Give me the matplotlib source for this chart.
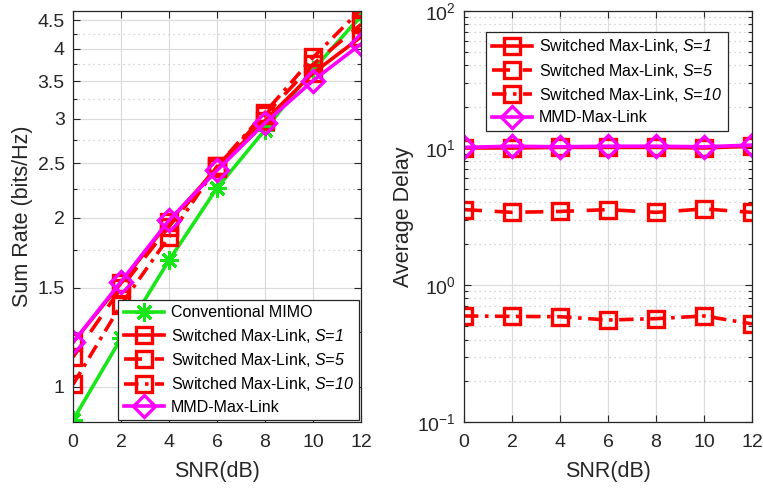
import matplotlib
matplotlib.use("Agg")
import matplotlib.pyplot as plt
from matplotlib.ticker import FixedLocator, FixedFormatter, LogLocator, NullFormatter

plt.rcParams['font.family'] = ['Liberation Sans', 'DejaVu Sans']
plt.rcParams['mathtext.fontset'] = 'custom'
# \text{} inside mathtext picks up the italic face, so "S=1" stays tight
plt.rcParams['mathtext.rm'] = 'Liberation Sans:italic'
plt.rcParams['mathtext.it'] = 'Liberation Sans:italic'

snr = [0, 2, 4, 6, 8, 10, 12]

# sum rate (bits/Hz)
rate_mimo = [0.873, 1.22, 1.68, 2.26, 2.87, 3.67, 4.58]
rate_s1 = [1.20, 1.53, 1.97, 2.45, 2.98, 3.62, 4.20]
rate_s5 = [1.13, 1.50, 1.93, 2.47, 3.05, 3.75, 4.42]
rate_s10 = [1.01, 1.40, 1.85, 2.47, 3.08, 3.86, 4.70]
rate_mmd = [1.20, 1.54, 1.98, 2.43, 2.95, 3.51, 4.08]

# average delay
delay_s1 = [10.0, 10.0, 10.1, 10.1, 10.1, 10.0, 10.3]
delay_s5 = [3.55, 3.39, 3.44, 3.55, 3.39, 3.59, 3.39]
delay_s10 = [0.594, 0.59, 0.587, 0.555, 0.568, 0.594, 0.52]
delay_mmd = [10.1, 10.3, 10.2, 10.3, 10.3, 10.2, 10.5]

rate_ticks = [1, 1.5, 2, 2.5, 3, 3.5, 4, 4.5]
rate_minor = [1.25, 1.75, 2.25, 2.75, 3.25, 3.75, 4.25]

lbl_mimo = 'Conventional MIMO'
lbl_s1 = r'Switched Max-Link, $\text{S=1}$'
lbl_s5 = r'Switched Max-Link, $\text{S=5}$'
lbl_s10 = r'Switched Max-Link, $\text{S=10}$'
lbl_mmd = 'MMD-Max-Link'

GREEN = '#19e619'
RED = '#ff0000'
MAG = '#ff00ff'
AX = '#262626'

fig = plt.figure(figsize=(7.63, 4.90), dpi=100)
ax1 = fig.add_axes([0.0957, 0.1388, 0.3775, 0.8388])
ax2 = fig.add_axes([0.6081, 0.1388, 0.3775, 0.8388])

lw = 2.6
ms = 11.5
mew = 2.4
dashed = (0, (5, 3.5))
dashdot = (0, (4, 1.8, 1, 1.8))
asterisk = (8, 2, 0)

ax1.plot(snr, rate_mimo, color=GREEN, lw=lw, marker=asterisk, ms=ms + 2, mew=2.2, label=lbl_mimo)
ax1.plot(snr, rate_s1, color=RED, lw=lw, ls='-', marker='s', ms=ms, mew=mew, mfc='none', label=lbl_s1)
ax1.plot(snr, rate_s5, color=RED, lw=lw, ls=dashed, marker='s', ms=ms, mew=mew, mfc='none', label=lbl_s5)
ax1.plot(snr, rate_s10, color=RED, lw=lw, ls=dashdot, marker='s', ms=ms, mew=mew, mfc='none', label=lbl_s10)
ax1.plot(snr, rate_mmd, color=MAG, lw=lw, marker='D', ms=ms, mew=mew, mfc='none', label=lbl_mmd)

ax1.set_yscale('log')
ax1.set_ylim(0.866, 4.67)
ax1.yaxis.set_major_locator(FixedLocator(rate_ticks))
ax1.yaxis.set_major_formatter(FixedFormatter([f'{v:g}' for v in rate_ticks]))
ax1.yaxis.set_minor_locator(FixedLocator(rate_minor))
ax1.yaxis.set_minor_formatter(NullFormatter())
ax1.set_ylabel('Sum Rate (bits/Hz)', fontsize=15.5, color=AX, labelpad=3)

ax2.plot(snr, delay_s1, color=RED, lw=lw, ls='-', marker='s', ms=ms, mew=mew, mfc='none', label=lbl_s1)
ax2.plot(snr, delay_s5, color=RED, lw=lw, ls=dashed, marker='s', ms=ms, mew=mew, mfc='none', label=lbl_s5)
ax2.plot(snr, delay_s10, color=RED, lw=lw, ls=dashdot, marker='s', ms=ms, mew=mew, mfc='none', label=lbl_s10)
ax2.plot(snr, delay_mmd, color=MAG, lw=lw, marker='D', ms=ms, mew=mew, mfc='none', label=lbl_mmd)

ax2.set_yscale('log')
ax2.set_ylim(0.1, 100)
ax2.yaxis.set_major_locator(LogLocator(base=10))
ax2.yaxis.set_minor_locator(LogLocator(base=10, subs=range(2, 10)))
ax2.yaxis.set_minor_formatter(NullFormatter())
ax2.set_ylabel('Average Delay', fontsize=15.5, color=AX, labelpad=2)

for ax in (ax1, ax2):
    ax.set_xlim(0, 12)
    ax.set_xticks(snr)
    ax.set_xlabel('SNR(dB)', fontsize=15.5, color=AX, labelpad=7)
    ax.grid(True, which='major', color='#dcdcdc', lw=0.9, ls='-')
    ax.grid(True, which='minor', axis='y', color='#c8c8c8', lw=0.9, ls=(0, (1, 3)))
    ax.set_axisbelow(True)
    ax.tick_params(which='both', direction='in', top=True, right=True, colors=AX,
                   labelsize=14, width=0.8)
    ax.tick_params(which='major', length=5)
    ax.tick_params(which='minor', length=3)
    ax.tick_params(axis='x', which='major', pad=9)
    ax.tick_params(axis='y', which='major', pad=6)
    for sp in ax.spines.values():
        sp.set_color(AX)
        sp.set_linewidth(0.9)

leg1 = ax1.legend(loc='lower right', bbox_to_anchor=(1.0, 0.0), fontsize=11.5,
                  handlelength=2.5, handletextpad=0.45, borderpad=0.35, labelspacing=0.4,
                  borderaxespad=0.1, fancybox=False, framealpha=1, edgecolor=AX)
leg1.get_frame().set_linewidth(0.9)
leg2 = ax2.legend(loc='upper right', bbox_to_anchor=(0.915, 0.95), fontsize=11.5,
                  handlelength=2.5, handletextpad=0.45, borderpad=0.35, labelspacing=0.4,
                  borderaxespad=0.0, fancybox=False, framealpha=1, edgecolor=AX)
leg2.get_frame().set_linewidth(0.9)

fig.savefig('out.png', dpi=100)
